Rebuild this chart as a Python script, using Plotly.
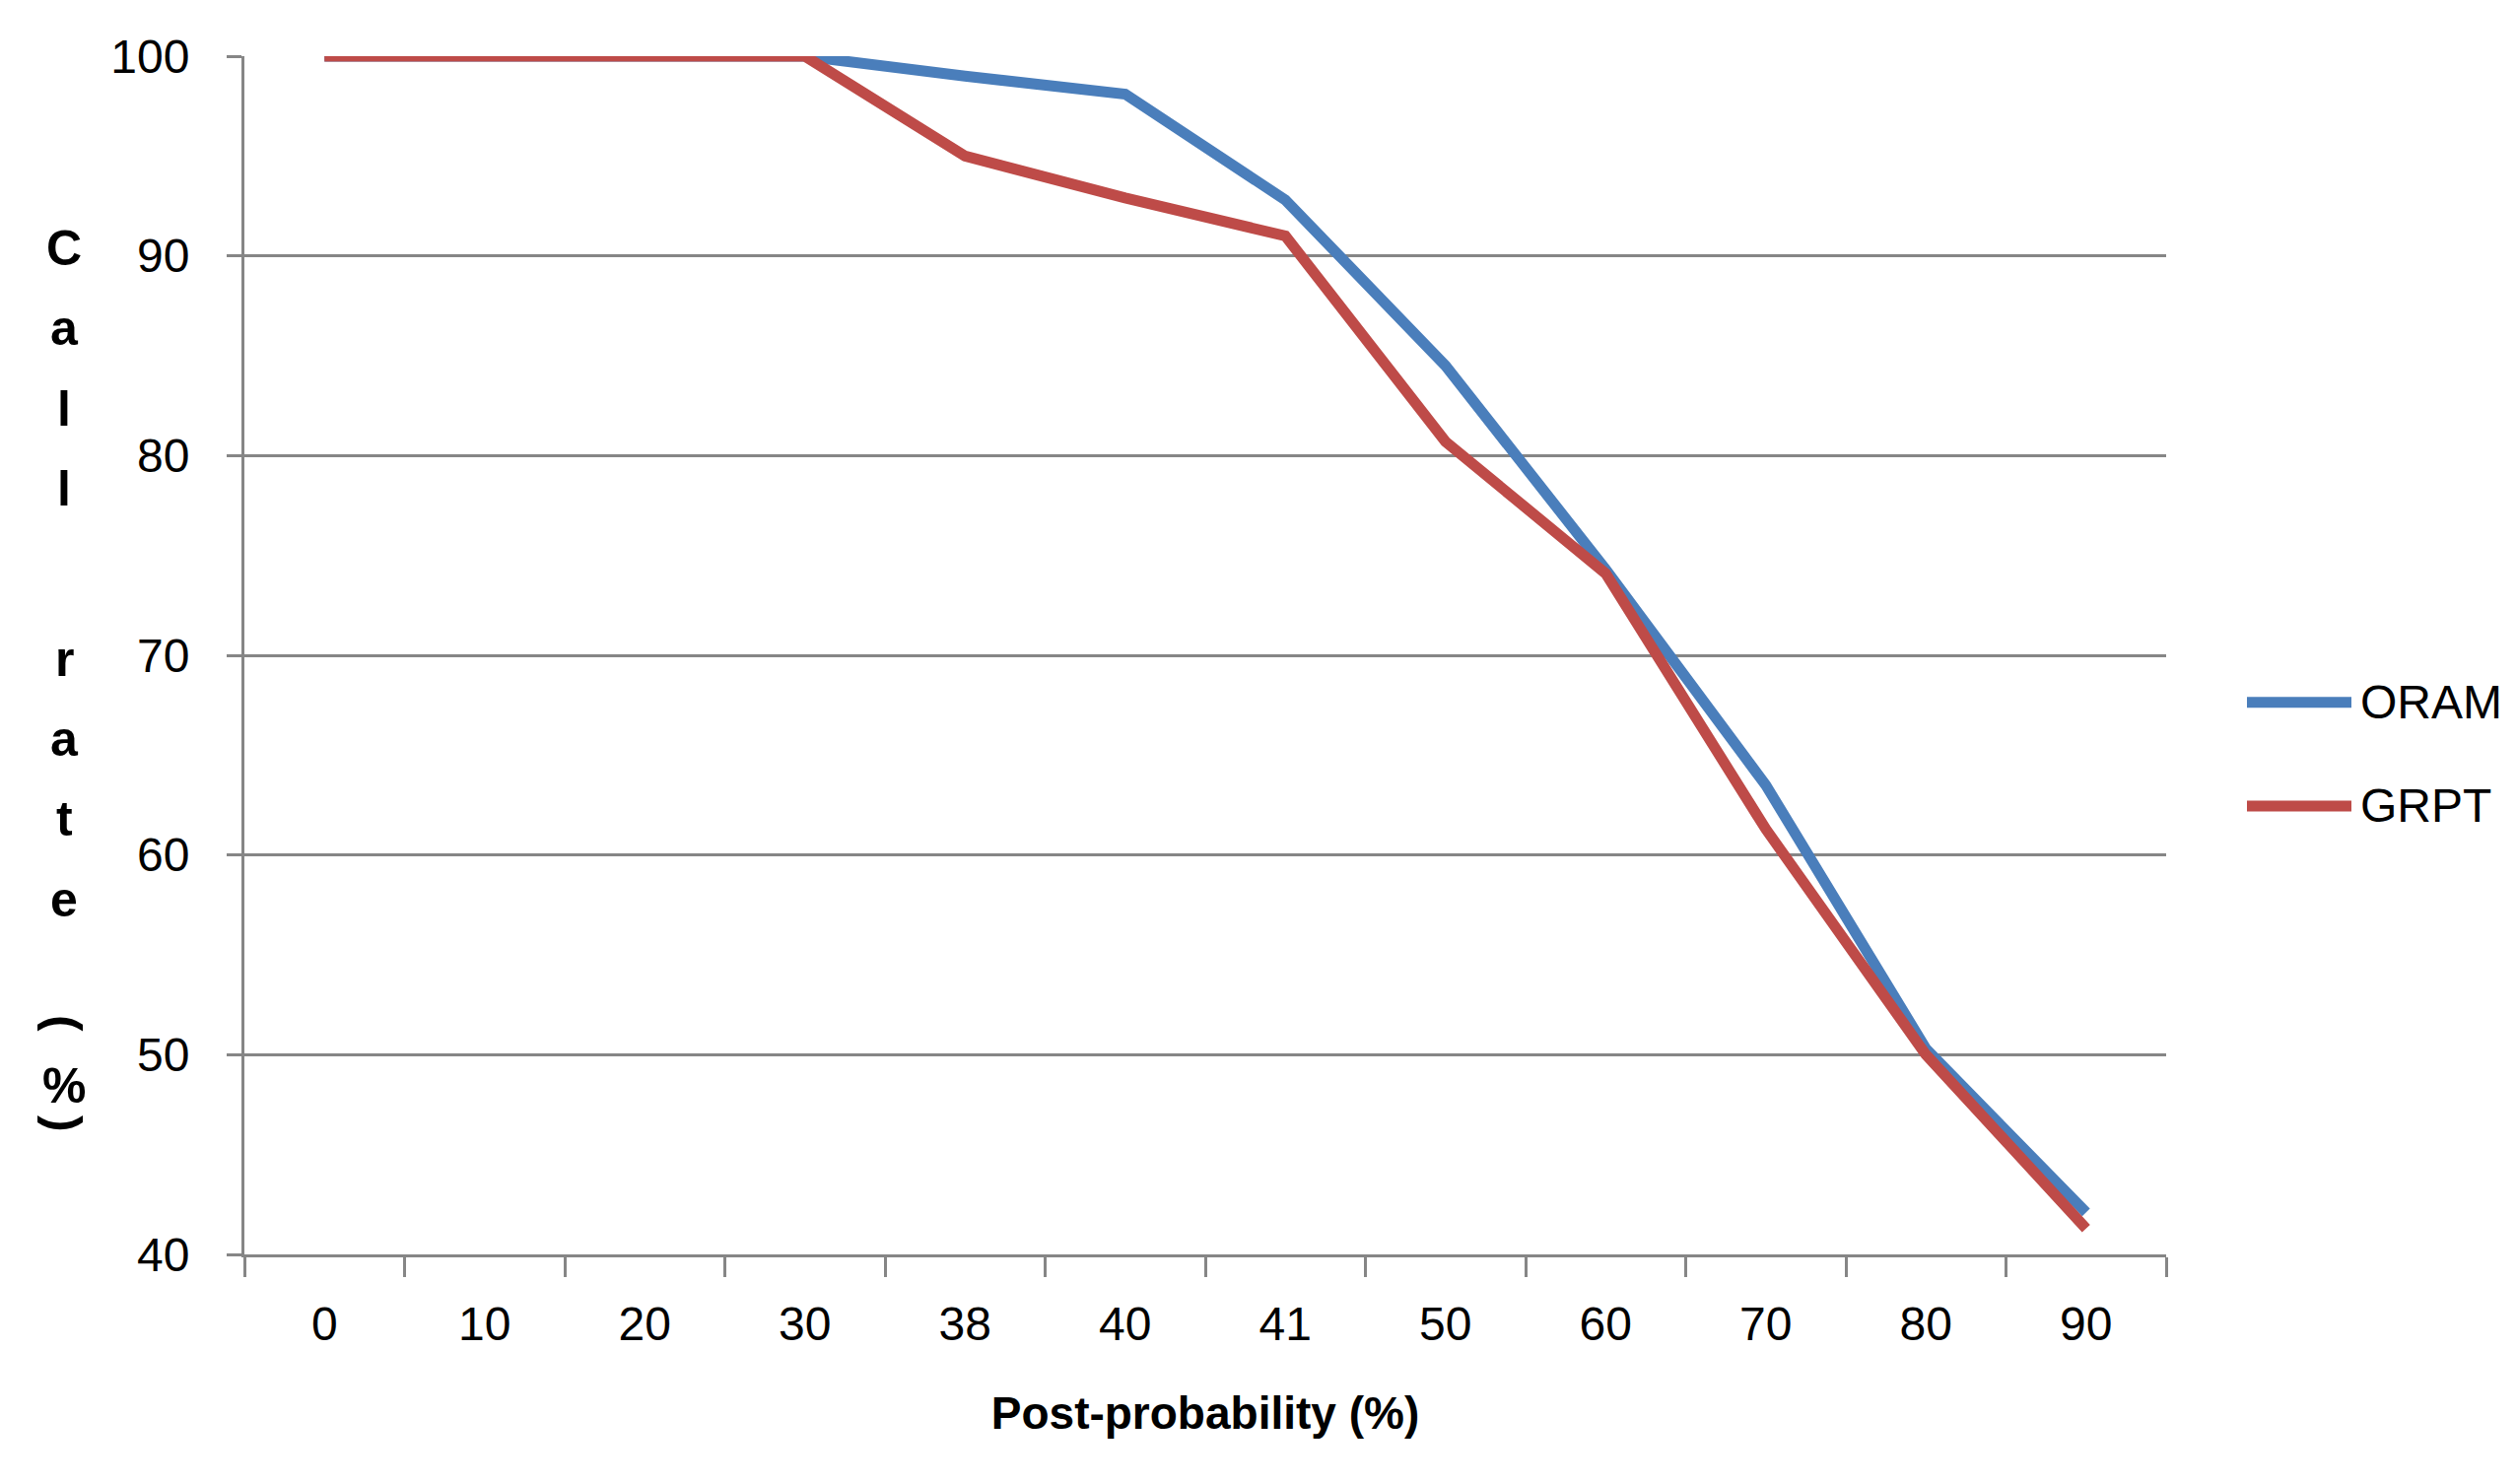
import plotly.graph_objects as go

# post-probability thresholds (category axis) and call rates (%)
post_prob = ["0", "10", "20", "30", "38", "40", "41", "50", "60", "70", "80", "90"]
oram = [100, 100, 100, 100, 99.0, 98.1, 92.8, 84.5, 74.3, 63.5, 50.3, 42.1]
grpt = [100, 100, 100, 100, 95.0, 92.9, 91.0, 80.7, 74.1, 61.3, 50.0, 41.3]

y_ticks = [40, 50, 60, 70, 80, 90, 100]

BLUE = "#4A7EBB"
RED = "#BE4B48"
GREY = "#868686"
FONT = "Liberation Sans, Arial"

fig = go.Figure()
fig.add_trace(go.Scatter(x=post_prob, y=oram, name="ORAM", mode="lines",
                         line=dict(color=BLUE, width=11)))
fig.add_trace(go.Scatter(x=post_prob, y=grpt, name="GRPT", mode="lines",
                         line=dict(color=RED, width=11)))

fig.update_layout(
    width=2537, height=1490,
    margin=dict(l=240, r=347, t=49, b=225),
    plot_bgcolor="white", paper_bgcolor="white",
    showlegend=False,
    font=dict(family=FONT, size=48, color="black"),
)

fig.update_xaxes(
    type="category", range=[-0.5, 11.5],
    tickson="boundaries", ticks="outside", ticklen=20, tickwidth=3, tickcolor=GREY,
    showline=True, linecolor=GREY, linewidth=3,
    showgrid=False, ticklabelstandoff=26,
    title=dict(text="<b>Post-probability (%)</b>", font=dict(family=FONT, size=46), standoff=50),
)
fig.update_yaxes(
    range=[40, 100], tickvals=y_ticks,
    ticks="outside", ticklen=15, tickwidth=3, tickcolor=GREY,
    showline=True, linecolor=GREY, linewidth=3,
    showgrid=True, gridcolor=GREY, gridwidth=3,
    ticklabelstandoff=28, zeroline=False,
)

# stacked (vertical) y-axis title, one glyph per row as in the original;
# the brackets are turned on their side like Excel's stacked text
title_chars = ["C", "a", "l", "l", "r", "a", "t", "e", "(", "%", ")"]
title_rows = [252, 333, 415, 496, 669, 750, 831, 913, 1038, 1102, 1140]
top_px, plot_h = 57.3, 1215.7
for ch, row in zip(title_chars, title_rows):
    fig.add_annotation(
        text="<b>%s</b>" % ch, xref="paper", yref="paper",
        x=(65 - 248) / 1950, y=1 - (row - top_px) / plot_h,
        xanchor="center", yanchor="middle", showarrow=False,
        textangle=90 if ch in "()" else 0,
        font=dict(family=FONT, size=50, color="black"),
    )

# legend drawn to the Excel look: long line sample then the label
for name, colour, row in [("ORAM", BLUE, 713), ("GRPT", RED, 818)]:
    yp = 1 - (row - top_px) / plot_h
    fig.add_shape(type="line", xref="paper", yref="paper",
                  x0=(2280 - 248) / 1950, x1=(2386 - 248) / 1950, y0=yp, y1=yp,
                  line=dict(color=colour, width=11))
    fig.add_annotation(text=name, xref="paper", yref="paper",
                       x=(2393 - 248) / 1950, y=yp, xanchor="left", yanchor="middle",
                       showarrow=False, font=dict(family=FONT, size=48, color="black"))

fig.write_html("out.html")
